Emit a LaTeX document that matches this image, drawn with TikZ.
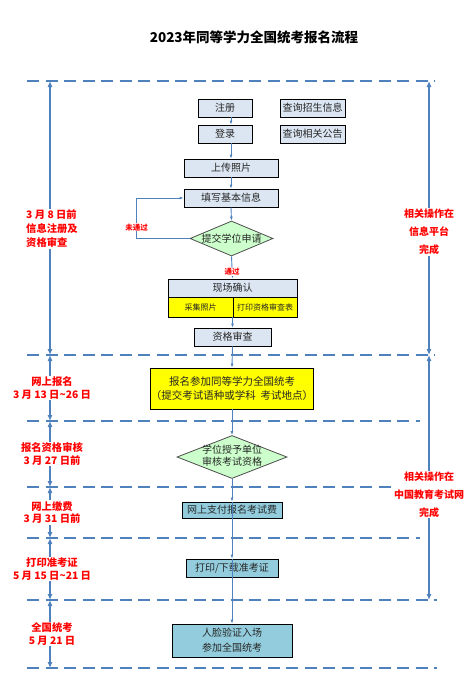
\documentclass[tikz,border=0pt]{standalone}
\usepackage{fontspec}
\setmainfont{Noto Sans CJK SC}
\usetikzlibrary{shapes.geometric,arrows.meta}
\definecolor{lineblue}{HTML}{4F81BD}
\definecolor{boxgray}{HTML}{DCE6F2}
\definecolor{checkgreen}{HTML}{CCFFCC}
\definecolor{payblue}{HTML}{93CDDD}
\definecolor{markyellow}{HTML}{FFFF00}
\definecolor{notered}{HTML}{FF0000}

\begin{document}
\begin{tikzpicture}[x=1pt, y=-1pt,
  box/.style={draw, line width=0.8pt, fill=boxgray, inner sep=0pt,
    font=\fontsize{10}{12}\selectfont, text=black!85},
  check/.style={diamond, draw=black!70, line width=0.8pt, fill=checkgreen,
    inner sep=0pt, font=\fontsize{10}{11.5}\selectfont, text=black!85},
  flow/.style={draw=lineblue, line width=0.9pt, -{Latex[length=4pt,width=3pt]}},
  span/.style={draw=lineblue, line width=1.1pt,
    {Latex[length=6pt,width=5pt]}-{Latex[length=6pt,width=5pt]}},
  sep/.style={draw=lineblue, line width=2.8pt, dash pattern=on 12pt off 6.5pt},
  note/.style={text=notered, font=\bfseries\fontsize{10.3}{12.5}\selectfont,
    fill=white, inner sep=1pt, align=center},
  tag/.style={text=notered, font=\bfseries\fontsize{7.5}{9}\selectfont,
    fill=white, inner sep=0.5pt}]
\useasboundingbox (0,0) rectangle (474,686);
\draw (254,37) node[font=\bfseries\fontsize{13.5}{16}\selectfont](title)
  {2023年同等学力全国统考报名流程};
%
% stage borders
\foreach \y/\xe [count=\i] in {81/435,355/435,421/420,487/420,538/420,600/437,668/437} {
  \draw[sep] (27,\y) -- (\xe,\y);
  \coordinate (t\i) at (50,\y);
  \coordinate (r\i) at (429,\y);
}
%
% dates on the left
\draw[span] (t1) -- node[note, pos=0.54, align=left, xshift=2pt,
  font=\bfseries\fontsize{10.3}{14}\selectfont]{3 月 8 日前\\信息注册及\\资格审查} (t2);
\draw[span] (t2) -- node[note, xshift=2pt]{网上报名\\3 月 13 日\textasciitilde 26 日} (t3);
\draw[span] (t3) -- node[note, xshift=2pt]{报名资格审核\\3 月 27 日前} (t4);
\draw[span] (t4) -- node[note, xshift=2pt]{网上缴费\\3 月 31 日前} (t5);
\draw[span] (t5) -- node[note, xshift=2pt]{打印准考证\\5 月 15 日\textasciitilde 21 日} (t6);
\draw[span] (t6) -- node[note, xshift=2pt]{全国统考\\5 月 21 日} (t7);
%
% where it is done, on the right
\draw[span] (r1) -- node[note, pos=0.55, font=\bfseries\fontsize{10}{18}\selectfont]
  {相关操作在\\信息平台\\完成} (r2);
\draw[span] (r2) -- node[note, pos=0.57, font=\bfseries\fontsize{10}{18}\selectfont]
  {相关操作在\\中国教育考试网\\完成} (r6);
%
% information platform
\draw (225,108) node[box, minimum width=54pt, minimum height=18pt](reg){注册};
\draw (312.5,108) node[box, minimum width=65pt, minimum height=18pt](query){查询招生信息};
\draw (225,134) node[box, minimum width=54pt, minimum height=18pt](login){登录};
\draw (312.5,134) node[box, minimum width=65pt, minimum height=18pt](notice){查询相关公告};
\draw (231,168) node[box, minimum width=94pt, minimum height=18pt](upload){上传照片};
\draw (231,198) node[box, minimum width=94pt, minimum height=18pt](fillin){填写基本信息};
\draw (231.5,238.5) node[check, minimum width=83pt, minimum height=35pt](apply)
  {\makebox[0pt]{提交学位申请}};
\draw[flow] (reg.south -| upload.north) -- (login.north -| upload.north);
\draw[flow] (login.south -| upload.north) -- (upload.north);
\draw[flow] (upload.south) -- (fillin.north);
\draw[flow] (fillin.south) -- (apply.north);
\coordinate (back) at ([xshift=-53pt] apply.west);
\draw[flow] (apply.west) -- (back) |- node[tag, pos=0.14]{未通过} (fillin.west);
%
\draw (232.5,288) node[box, minimum width=129pt, minimum height=18pt](confirm){现场确认};
\draw (200.5,307) node[box, fill=markyellow, font=\fontsize{8}{10}\selectfont,
  minimum width=65pt, minimum height=20pt](photo){采集照片};
\draw (265,307) node[box, fill=markyellow, font=\fontsize{8}{10}\selectfont,
  minimum width=64pt, minimum height=20pt](printform){打印资格审查表};
\draw (232.5,337) node[box, minimum width=77pt, minimum height=18pt](review){资格审查};
\draw[flow] (apply.south) -- node[tag, pos=0.7]{通过} (confirm.north);
\draw[flow] (review.north |- photo.south) -- (review.north);
%
% national exam network
\draw (232,388.5) node[box, fill=markyellow, align=center,
  font=\fontsize{10.5}{14}\selectfont, minimum width=162pt, minimum height=41pt](signup)
  {报名参加同等学力全国统考\\（提交考试语种或学科\ \ 考试地点）};
\draw (232,457) node[check, minimum width=110pt, minimum height=43pt](verify)
  {\makebox[0pt]{\begin{tabular}{@{}c@{}}学位授予单位\\审核考试资格\end{tabular}}};
\draw (232,510) node[box, fill=payblue, minimum width=100pt, minimum height=16pt](pay)
  {网上支付报名考试费};
\draw (232,568) node[box, fill=payblue, minimum width=92pt, minimum height=18pt](ticket)
  {打印/下载准考证};
\draw (232,640.5) node[box, fill=payblue, align=center, font=\fontsize{10}{15}\selectfont,
  minimum width=120pt, minimum height=33pt](exam){人脸验证入场\\参加全国统考};
\draw[flow] (review.south) -- (signup.north);
\draw[flow] (signup.south) -- (verify.north);
\draw[flow] (verify.south) -- (pay.north);
\draw[flow] (pay.north) -- (ticket.north);
\draw[flow] (ticket.north) -- (exam.north);
\end{tikzpicture}
\end{document}
